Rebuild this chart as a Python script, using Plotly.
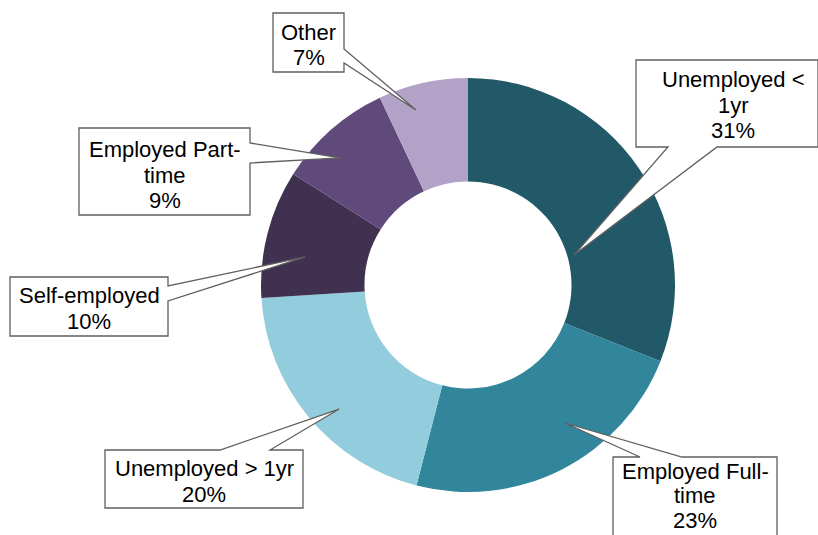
import plotly.graph_objects as go
import math

# Employment status breakdown
categories = ["Unemployed < 1yr", "Employed Full-time", "Unemployed > 1yr",
              "Self-employed", "Employed Part-time", "Other"]
shares = [31, 23, 20, 10, 9, 7]
label_lines = [["Unemployed <", "1yr", "31%"],
               ["Employed Full-", "time", "23%"],
               ["Unemployed > 1yr", "20%"],
               ["Self-employed", "10%"],
               ["Employed Part-", "time", "9%"],
               ["Other", "7%"]]
colors = ["#215968", "#31869B", "#93CDDD", "#403151", "#604A7B", "#B3A2C7"]

W, H = 818, 535
CX, CY, R = 468, 285, 207          # donut centre and outer radius (px)

# callout layout: box (x0, x1, y0, y1), text centre, line gap, pointer side + base,
# and where the pointer lands inside its slice (fraction of span, fraction of radius)
callouts = [
    dict(box=(636, 818, 60, 147), text=(733, 105), gap=25.5, side="bottom", base=(668, 717), at=(0.665, 0.532)),
    dict(box=(613, 777, 457, 548), text=(695, 495.5), gap=24.5, side="top", base=(640, 682), at=(0.402, 0.815)),
    dict(box=(105, 303, 450, 508), text=(204, 481.5), gap=25.5, side="top", base=(220, 270), at=(0.44, 0.864)),
    dict(box=(10, 168, 277, 336), text=(89, 308.5), gap=25.5, side="right", base=(286, 301), at=(0.371, 0.799)),
    dict(box=(79, 250, 128, 215), text=(164.5, 175), gap=25.5, side="right", base=(143, 163), at=(0.383, 0.871)),
    dict(box=(273, 344, 13, 72), text=(308.5, 45), gap=25.5, side="right", base=(49, 63), at=(0.343, 0.882)),
]

fig = go.Figure()
fig.add_trace(go.Pie(
    labels=categories, values=shares, hole=0.5, sort=False,
    direction="clockwise", rotation=0,
    marker=dict(colors=colors, line=dict(width=0)),
    textinfo="none", hoverinfo="label+percent", showlegend=False,
    domain=dict(x=[(CX - R) / W, (CX + R) / W],
                y=[1 - (CY + R) / H, 1 - (CY - R) / H]),
))

# invisible pixel-space axes for the callouts
fig.add_trace(go.Scatter(x=[0, W], y=[0, H], mode="markers",
                         marker=dict(opacity=0), hoverinfo="skip", showlegend=False))

total = sum(shares)
cum = 0
shapes, annotations = [], []
for val, lines, c in zip(shares, label_lines, callouts):
    start = cum
    cum += val
    frac, rfrac = c["at"]
    theta = math.radians(360.0 * (start + frac * val) / total)
    tx = CX + rfrac * R * math.sin(theta)
    ty = CY - rfrac * R * math.cos(theta)

    x0, x1, y0, y1 = c["box"]
    a, b = c["base"]
    if c["side"] == "right":
        pts = [(x0, y0), (x1, y0), (x1, a), (tx, ty), (x1, b), (x1, y1), (x0, y1)]
    elif c["side"] == "top":
        pts = [(x0, y0), (a, y0), (tx, ty), (b, y0), (x1, y0), (x1, y1), (x0, y1)]
    else:  # bottom
        pts = [(x0, y0), (x1, y0), (x1, y1), (b, y1), (tx, ty), (a, y1), (x0, y1)]
    path = "M " + " L ".join(f"{px:.2f},{py:.2f}" for px, py in pts) + " Z"
    shapes.append(dict(type="path", path=path, xref="x", yref="y",
                       fillcolor="white", line=dict(color="#5f5f5f", width=1.3),
                       layer="above"))

    cxl, cyl = c["text"]
    n = len(lines)
    for i, line in enumerate(lines):
        ly = cyl + (i - (n - 1) / 2) * c["gap"]
        annotations.append(dict(x=cxl, y=ly, xref="x", yref="y", text=line,
                                showarrow=False, xanchor="center", yanchor="middle",
                                borderpad=0,
                                font=dict(family="Liberation Sans, Arial, sans-serif",
                                          size=22, color="black")))

fig.update_layout(
    width=W, height=H,
    margin=dict(l=0, r=0, t=0, b=0),
    paper_bgcolor="white", plot_bgcolor="rgba(0,0,0,0)",
    xaxis=dict(range=[0, W], visible=False, fixedrange=True),
    yaxis=dict(range=[H, 0], visible=False, fixedrange=True),
    shapes=shapes, annotations=annotations,
)

fig.write_html("out.html")
